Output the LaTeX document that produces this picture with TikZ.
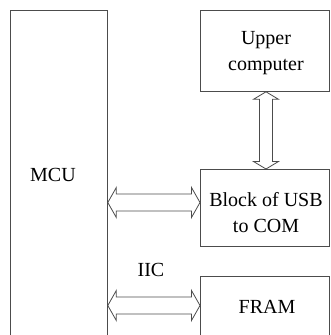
\documentclass[tikz,border=0pt]{standalone}
\usepackage{fontspec}
\setmainfont{Liberation Serif}
\usetikzlibrary{calc}
\begin{document}
\begin{tikzpicture}[x=1pt,y=-1pt,
  box/.style={draw=black!70,line width=0.8pt,inner sep=0pt,anchor=north west},
  lbl/.style={font=\fontsize{20}{26}\selectfont,align=center,inner sep=0pt},
  arrowline/.style={draw=black!70,line width=0.8pt,line join=miter}]
\useasboundingbox (0,0) rectangle (330,335);
\clip (0,0) rectangle (330,335);
\node[box,minimum width=97pt,minimum height=330pt] (mcu) at (10,10) {};
\node[box,minimum width=129pt,minimum height=81pt] (upper) at (200,10) {};
\node[box,minimum width=129pt,minimum height=77pt] (usb) at (200,169) {};
\node[box,minimum width=129pt,minimum height=70pt] (fram) at (200,276) {};
\node[lbl] (mcutext) at (53,175) {MCU};
\node[lbl] (uppertext) at (266,53) {Upper\\computer};
\node[lbl] (usbtext) at (266,213) {Block of USB\\to COM};
\node[lbl] (framtext) at (267,307) {FRAM};
\node[lbl] (iic) at (151,270) {IIC};
% horizontal double arrows
\coordinate (ya) at (0,202.5);
\coordinate (yb) at (0,305.5);
\coordinate (a1) at (mcu.east |- ya);
\coordinate (a2) at (usb.west |- ya);
\coordinate (b1) at (mcu.east |- yb);
\coordinate (b2) at (fram.west |- yb);
\draw[arrowline] (a1) -- ++(8.5,-15) -- ++(0,6.5) -- ($(a2)+(-8.5,-8.5)$) -- ++(0,-6.5) -- (a2)
  -- ++(-8.5,15) -- ++(0,-6.5) -- ($(a1)+(8.5,8.5)$) -- ++(0,6.5) -- cycle;
\draw[arrowline] (b1) -- ++(8.5,-15) -- ++(0,6.5) -- ($(b2)+(-8.5,-8.5)$) -- ++(0,-6.5) -- (b2)
  -- ++(-8.5,15) -- ++(0,-6.5) -- ($(b1)+(8.5,8.5)$) -- ++(0,6.5) -- cycle;
% vertical double arrow
\coordinate (xv) at (266,0);
\coordinate (c1) at (upper.south -| xv);
\coordinate (c2) at (usb.north -| xv);
\draw[arrowline] (c1) -- ++(12.5,7.5) -- ++(-6,0) -- ($(c2)+(6.5,-7.5)$) -- ++(6,0) -- (c2)
  -- ++(-12.5,-7.5) -- ++(6,0) -- ($(c1)+(-6.5,7.5)$) -- ++(-6,0) -- cycle;
\end{tikzpicture}
\end{document}
